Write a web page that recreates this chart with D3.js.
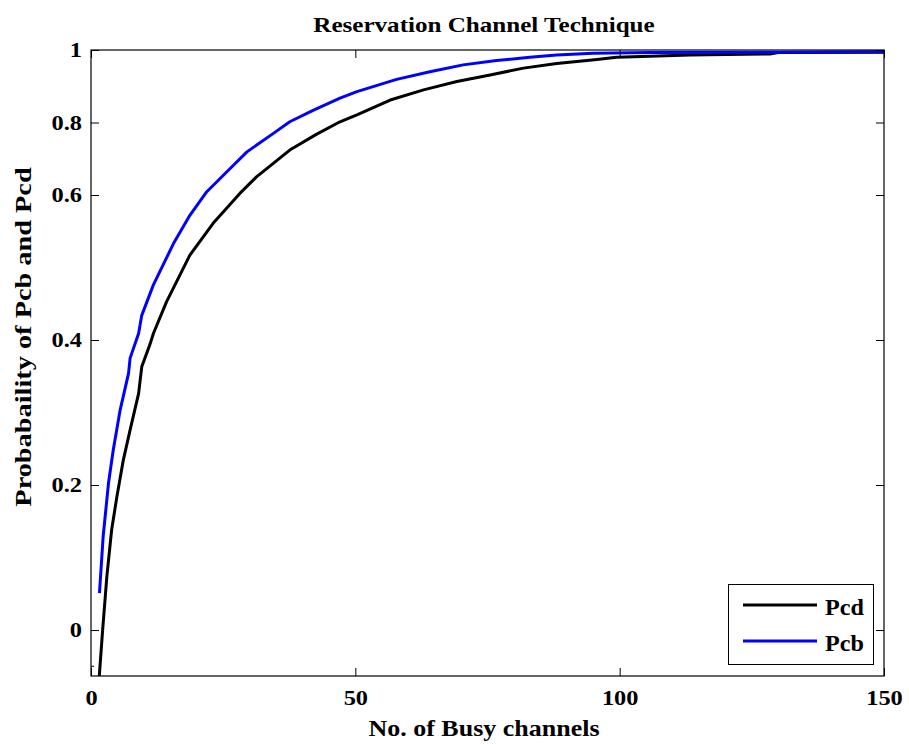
<!DOCTYPE html>
<html>
<head>
<meta charset="utf-8">
<script src="https://cdn.jsdelivr.net/npm/d3@7"></script>
<style>
  html, body { margin: 0; padding: 0; background: #fff; }
  svg text { font-family: "Liberation Serif", "Times New Roman", serif; font-weight: bold; fill: #000; }
</style>
</head>
<body>
<svg id="chart" width="909" height="745"></svg>
<script>
// ---- data ----
const titleText = "Reservation Channel Technique";
const xLabelText = "No. of Busy channels";
const yLabelText = "Probabaility of Pcb and Pcd";
const seriesNames = ["Pcd", "Pcb"];
const seriesColors = ["#000000", "#0000ff"];

const xTicks = [0, 50, 100, 150];
const yTicks = [0, 0.2, 0.4, 0.6, 0.8, 1];
const yTickLabels = ["0", "0.2", "0.4", "0.6", "0.8", "1"];

const xPcd = [1.5, 2.2, 3.0, 3.9, 4.9, 6.1, 7.4, 9.0, 9.6, 11.2, 11.8, 14.3, 18.7, 23.1, 28.2, 31.3, 37.6, 42.7, 47.1, 50.3, 56.6, 62.9, 69.2, 75.5, 81.8, 88.1, 95.7, 99.4, 105.7, 113.3, 128.4, 130, 150];
const pcd  = [-0.07, 0, 0.074, 0.138, 0.184, 0.234, 0.276, 0.326, 0.363, 0.395, 0.409, 0.453, 0.517, 0.561, 0.605, 0.650, 0.724, 0.768, 0.802, 0.821, 0.862, 0.890, 0.913, 0.931, 0.950, 0.963, 0.974, 0.980, 0.983, 0.986, 0.989, 0.993, 0.994];

const xPcb = [1.6, 2.3, 3.3, 4.2, 5.5, 7.1, 7.4, 9.0, 9.6, 11.8, 15.6, 18.7, 21.9, 25.7, 29.5, 34.5, 37.6, 42.1, 47.1, 50.3, 57.8, 64.1, 70.4, 76.7, 83.0, 88.1, 95.0, 105.7, 130, 150];
const pcb  = [0.051, 0.129, 0.202, 0.248, 0.303, 0.354, 0.375, 0.409, 0.434, 0.476, 0.533, 0.572, 0.609, 0.664, 0.719, 0.770, 0.802, 0.834, 0.867, 0.885, 0.919, 0.940, 0.959, 0.971, 0.980, 0.986, 0.991, 0.993, 0.994, 0.995];

// ---- layout ----
const L = 91, R = 884, T = 50, B = 676;
const svg = d3.select("#chart");

const x = d3.scaleLinear().domain([0, 150]).range([L, R]);
// the original axis has uneven tick spacing (0..0.6 evenly, 0.6..1 compressed)
const y = d3.scaleLinear().domain([-0.0634, 0.6, 1]).range([B, 195, T]);

function stretch(sel, f) {
  sel.each(function () {
    const w = this.getComputedTextLength();
    d3.select(this).attr("textLength", w * f).attr("lengthAdjust", "spacingAndGlyphs");
  });
}

svg.append("defs").append("clipPath").attr("id", "plotClip")
  .append("rect").attr("x", L).attr("y", T).attr("width", R - L).attr("height", B - T);

// background
svg.append("rect").attr("x", L).attr("y", T).attr("width", R - L).attr("height", B - T).attr("fill", "#fff");

// lines
const series = [
  { name: seriesNames[0], xs: xPcd, ys: pcd, color: seriesColors[0] },
  { name: seriesNames[1], xs: xPcb, ys: pcb, color: seriesColors[1] }
];
const line = d3.line().x(d => x(d[0])).y(d => y(d[1]));
const g = svg.append("g").attr("clip-path", "url(#plotClip)");
series.forEach(s => {
  g.append("path")
    .datum(s.xs.map((v, i) => [v, s.ys[i]]))
    .attr("d", line)
    .attr("fill", "none")
    .attr("stroke", s.color)
    .attr("stroke-width", 3)
    .attr("stroke-linejoin", "round");
});

// axes
const fs = 21;
const axL = svg.append("g").attr("transform", `translate(${L},0)`)
  .call(d3.axisLeft(y).tickValues(yTicks).tickFormat((d, i) => yTickLabels[i]).tickSizeInner(-8).tickSizeOuter(0).tickPadding(9));
const axR = svg.append("g").attr("transform", `translate(${R},0)`)
  .call(d3.axisRight(y).tickValues(yTicks).tickFormat("").tickSizeInner(-8).tickSizeOuter(0));
const axB = svg.append("g").attr("transform", `translate(0,${B})`)
  .call(d3.axisBottom(x).tickValues(xTicks).tickFormat(d3.format("d")).tickSizeInner(-8).tickSizeOuter(0).tickPadding(14));
const axT = svg.append("g").attr("transform", `translate(0,${T})`)
  .call(d3.axisTop(x).tickValues(xTicks).tickFormat("").tickSizeInner(-8).tickSizeOuter(0));
[axL, axR, axB, axT].forEach(a => {
  a.selectAll("path.domain").remove();
  a.selectAll("line").attr("stroke", "#000").attr("stroke-width", 1);
  a.selectAll("text").attr("font-size", fs).attr("font-family", null).attr("fill", "#000");
});
// small extra tick near bottom on the left
svg.append("line").attr("x1", L).attr("x2", L + 3).attr("y1", y(-0.05)).attr("y2", y(-0.05)).attr("stroke", "#000");

// frame
svg.append("rect").attr("x", L).attr("y", T).attr("width", R - L).attr("height", B - T)
  .attr("fill", "none").attr("stroke", "#000").attr("stroke-width", 1.2);

stretch(axL.selectAll("text"), 1.16);
stretch(axB.selectAll("text"), 1.16);

// title & labels
const title = svg.append("text").attr("x", 484).attr("y", 32).attr("text-anchor", "middle")
  .attr("font-size", 22).text(titleText);
stretch(title, 1.14);
const xl = svg.append("text").attr("x", 484).attr("y", 736).attr("text-anchor", "middle")
  .attr("font-size", 23).text(xLabelText);
stretch(xl, 1.13);
const yl = svg.append("text").attr("transform", "translate(31,337) rotate(-90)").attr("text-anchor", "middle")
  .attr("font-size", 24).text(yLabelText);
stretch(yl, 1.18);

// legend
const lg = svg.append("g");
lg.append("rect").attr("x", 728.5).attr("y", 584.5).attr("width", 145).attr("height", 80)
  .attr("fill", "#fff").attr("stroke", "#000").attr("stroke-width", 1);
const legY = [605, 641];
series.forEach((s, i) => {
  lg.append("line").attr("x1", 743).attr("x2", 817).attr("y1", legY[i]).attr("y2", legY[i])
    .attr("stroke", s.color).attr("stroke-width", 3);
  const t = lg.append("text").attr("x", 825).attr("y", legY[i] + 10).attr("font-size", 23).text(s.name);
  stretch(t, 1.05);
});
</script>
</body>
</html>
